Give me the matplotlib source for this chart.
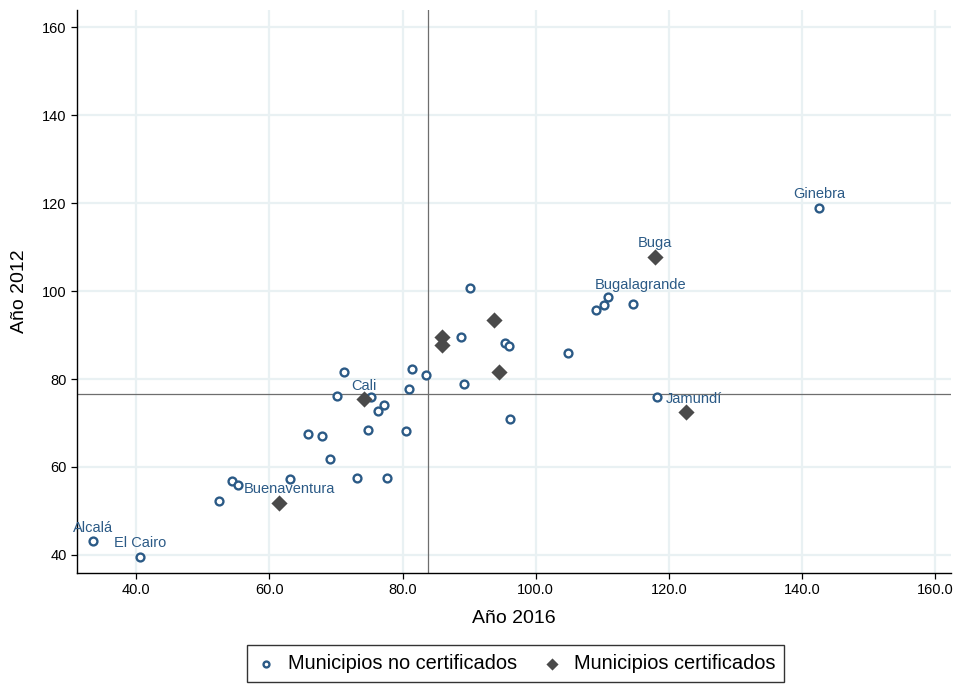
import matplotlib.pyplot as plt

plt.rcParams['font.family'] = ['Liberation Sans', 'DejaVu Sans']

# Municipios no certificados: (Año 2016, Año 2012)
nocert_x = [142.6, 33.5, 40.6, 90.2, 88.8, 95.4, 96.0, 104.9, 109.1, 110.2,
            110.8, 114.6, 118.2, 96.1, 89.2, 71.2, 81.4, 83.5, 81.0, 70.2,
            75.3, 77.2, 76.3, 74.8, 80.5, 65.8, 67.9, 69.1, 63.1, 73.2,
            77.7, 54.4, 55.3, 52.5]
nocert_y = [118.9, 43.2, 39.5, 100.7, 89.5, 88.2, 87.6, 85.9, 95.7, 96.8,
            98.6, 97.1, 75.9, 70.9, 78.9, 81.6, 82.3, 80.9, 77.7, 76.1,
            75.9, 74.1, 72.7, 68.4, 68.2, 67.5, 67.0, 61.8, 57.3, 57.5,
            57.5, 56.8, 55.9, 52.3]
nocert_names = ["Ginebra", "Alcalá", "El Cairo", "", "", "", "", "", "", "",
                "", "Bugalagrande", "", "", "", "", "", "", "", "",
                "", "", "", "", "", "", "", "", "", "",
                "", "", "", ""]

# Municipios certificados
cert_x = [117.9, 122.6, 74.2, 61.5, 93.7, 85.9, 85.9, 94.5]
cert_y = [107.7, 72.5, 75.4, 51.8, 93.4, 89.5, 87.7, 81.6]
cert_names = ["Buga", "Jamundí", "Cali", "Buenaventura", "", "", "", ""]

# reference lines
ref_x = 83.9
ref_y = 76.7

ticks = [40, 60, 80, 100, 120, 140, 160]

# label offsets in pixels (dx, dy)
label_offsets = {
    "Ginebra": (0, 14), "Alcalá": (0, 13), "El Cairo": (0, 14),
    "Bugalagrande": (8, 19), "Buga": (0, 14), "Jamundí": (8, 13),
    "Cali": (0, 13), "Buenaventura": (10, 14),
}

navy = "#2b5a86"
dark = "#4a4a4a"
grid_color = "#e9f1f3"

fig = plt.figure(figsize=(9.58, 6.85), dpi=100)
ax = fig.add_axes([0.0804, 0.1635, 0.9123, 0.822])

ax.set_xlim(31.1, 162.4)
ax.set_ylim(35.9, 163.9)
ax.set_xticks(ticks)
ax.set_yticks(ticks)
ax.set_xticklabels([f"{t:.1f}" for t in ticks])
ax.set_yticklabels([str(t) for t in ticks])
ax.grid(True, color=grid_color, linewidth=1.6, zorder=0)
ax.set_axisbelow(True)

for side in ["top", "right"]:
    ax.spines[side].set_visible(False)
for side in ["left", "bottom"]:
    ax.spines[side].set_linewidth(1.0)
ax.tick_params(direction="out", length=4.5, width=0.9, labelsize=10.5, pad=3)

ax.axvline(ref_x, color="#6e6e6e", linewidth=0.9, zorder=1)
ax.axhline(ref_y, color="#6e6e6e", linewidth=0.9, zorder=1)

ax.scatter(nocert_x, nocert_y, s=32, marker="o", facecolors="white",
           edgecolors=navy, linewidths=1.7, zorder=3,
           label="Municipios no certificados")
ax.scatter(cert_x, cert_y, s=68, marker="D", color=dark, linewidths=0,
           zorder=3, label="Municipios certificados")

for xs, ys, names in [(nocert_x, nocert_y, nocert_names),
                      (cert_x, cert_y, cert_names)]:
    for x, y, name in zip(xs, ys, names):
        if name:
            dx, dy = label_offsets[name]
            ax.annotate(name, (x, y), xytext=(dx, dy), textcoords="offset pixels",
                        ha="center", va="center", fontsize=10.5, color=navy,
                        zorder=4)

ax.set_xlabel("Año 2016", fontsize=14, labelpad=9)
ax.set_ylabel("Año 2012", fontsize=14, labelpad=10)

leg = fig.legend(loc="center", bbox_to_anchor=(0.538, 0.031), ncol=2,
                 fontsize=14.4, frameon=True, fancybox=False,
                 edgecolor="black", handlelength=1.0, handletextpad=0.6,
                 columnspacing=1.25, borderpad=0.45, borderaxespad=0,
                 markerscale=0.75)
leg.get_frame().set_linewidth(1.0)

fig.savefig("out.png", dpi=100)
